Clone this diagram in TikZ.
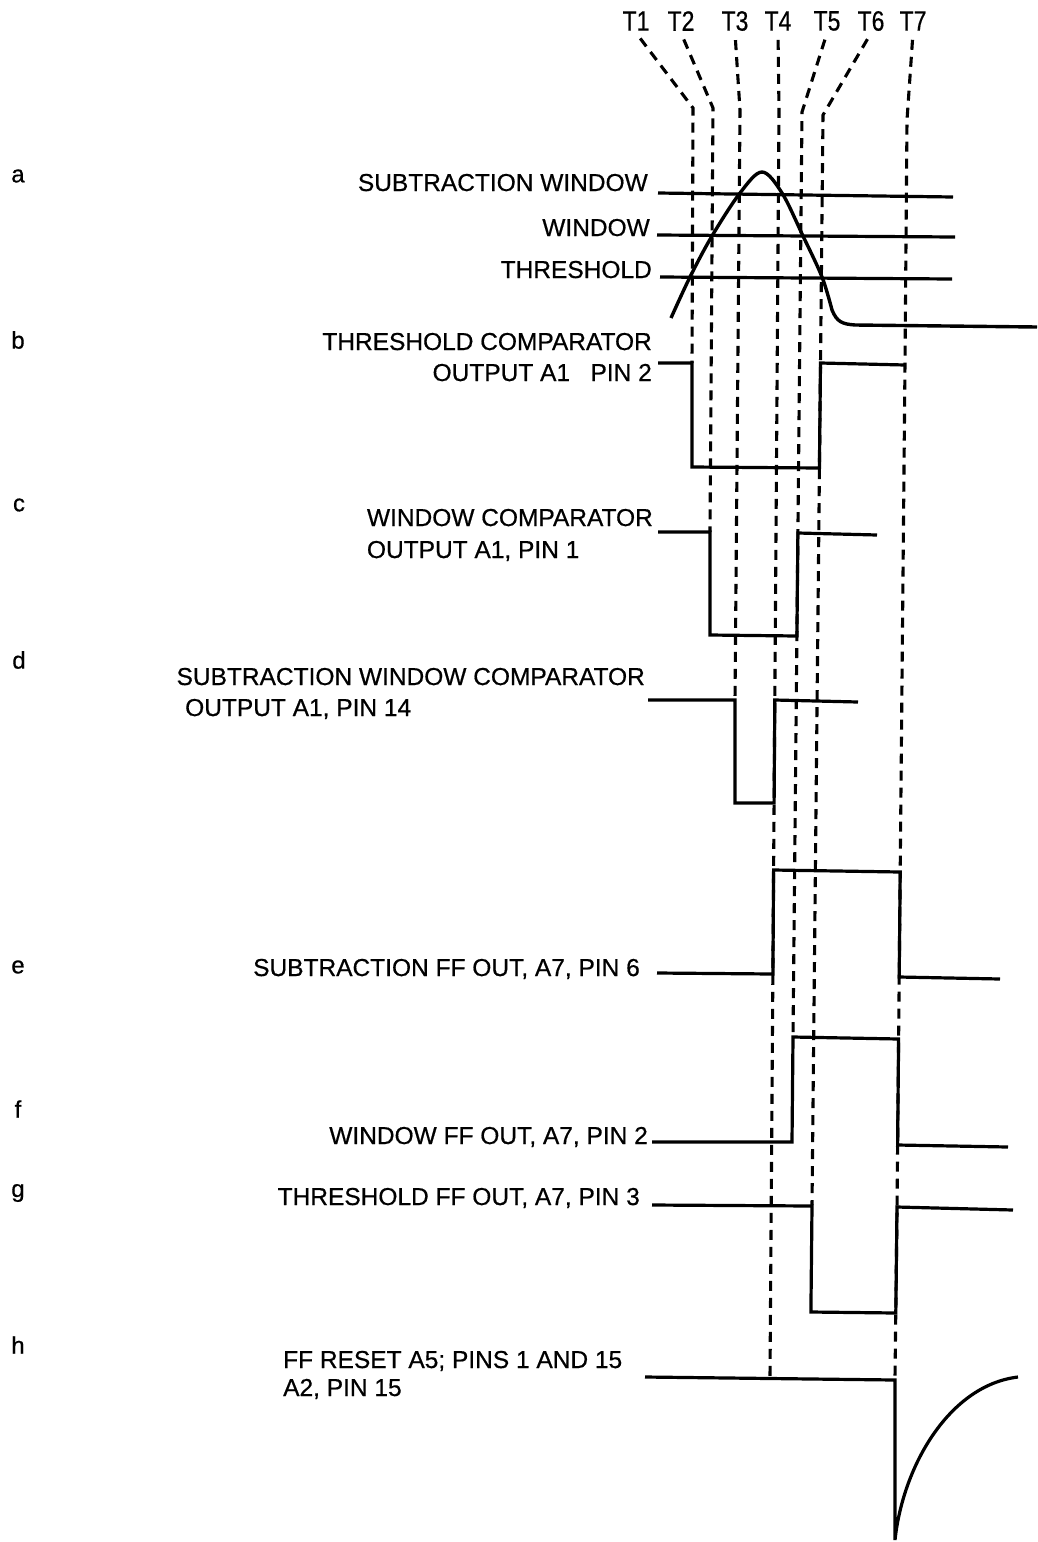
\documentclass[tikz,border=0pt]{standalone}
\usepackage{graphicx}
\usepackage{fontspec}
\setmainfont{Liberation Sans}[FakeBold=0.6]
\begin{document}
\begin{tikzpicture}[x=1pt,y=-1pt,
  lbl/.style={inner sep=0pt,font=\fontsize{24.5}{29}\selectfont},
  tlbl/.style={inner sep=2pt,font=\fontsize{28}{32}\selectfont},
  rowlbl/.style={inner sep=0pt,font=\fontsize{24}{29}\selectfont},
  wave/.style={line width=3.2pt,line join=miter},
  guide/.style={line width=3.1pt,dash pattern=on 10pt off 7pt,shorten <=7pt}]
\useasboundingbox (0,0) rectangle (1037,1542);

% row letters
\node[rowlbl] (ra) at (18,176) {a};
\node[rowlbl] (rb) at (18,340) {b};
\node[rowlbl] (rc) at (19,505) {c};
\node[rowlbl] (rd) at (19,660) {d};
\node[rowlbl] (re) at (18,967) {e};
\node[rowlbl] (rf) at (18,1109) {f};
\node[rowlbl] (rg) at (18,1193) {g};
\node[rowlbl] (rh) at (18,1345) {h};

% time labels
\node[tlbl] (T1) at (636,21) {\scalebox{0.82}[1]{T1}};
\node[tlbl] (T2) at (681,21) {\scalebox{0.82}[1]{T2}};
\node[tlbl] (T3) at (735,21) {\scalebox{0.82}[1]{T3}};
\node[tlbl] (T4) at (778,21) {\scalebox{0.82}[1]{T4}};
\node[tlbl] (T5) at (827,21) {\scalebox{0.82}[1]{T5}};
\node[tlbl] (T6) at (871,21) {\scalebox{0.82}[1]{T6}};
\node[tlbl] (T7) at (913,21) {\scalebox{0.82}[1]{T7}};

% signal labels
\node[lbl,anchor=base east] (lsw) at (648,191) {SUBTRACTION WINDOW};
\node[lbl,anchor=base east] (lw) at (650,236) {WINDOW};
\node[lbl,anchor=base east] (lt) at (652,278) {THRESHOLD};
\node[lbl,anchor=base east] (lb1) at (652,350) {THRESHOLD COMPARATOR};
\node[lbl,anchor=base east] (lb2) at (652,381) {OUTPUT A1\ \ \ PIN 2};
\node[lbl,anchor=base east] (lc1) at (653,526) {WINDOW COMPARATOR};
\node[lbl,anchor=base west] (lc2) at (lc1.base west |- 0,558) {OUTPUT A1, PIN 1};
\node[lbl,anchor=base east] (ld1) at (645,685) {SUBTRACTION WINDOW COMPARATOR};
\node[lbl,anchor=base west] (ld2) at (185,716) {OUTPUT A1, PIN 14};
\node[lbl,anchor=base east] (le) at (640,976) {SUBTRACTION FF OUT, A7, PIN 6};
\node[lbl,anchor=base east] (lf) at (648,1144) {WINDOW FF OUT, A7, PIN 2};
\node[lbl,anchor=base east] (lg) at (640,1205) {THRESHOLD FF OUT, A7, PIN 3};
\node[lbl,anchor=base west] (lh1) at (283,1368) {FF RESET A5; PINS 1 AND 15};
\node[lbl,anchor=base west] (lh2) at (283,1396) {A2, PIN 15};

% guide bend / end points
\coordinate (T1b) at (693,108);   \coordinate (T1e) at (692,363);
\coordinate (T2b) at (713,108);   \coordinate (T2e) at (710,532);
\coordinate (T3b) at (740,110);   \coordinate (T3e) at (735,700);
\coordinate (T4b) at (779,110);   \coordinate (T4e) at (770,1377);
\coordinate (T5b) at (802,112);   \coordinate (T5e) at (793,1037);
\coordinate (T6b) at (823,115);   \coordinate (T6e) at (812,1205);
\coordinate (T7b) at (907,120);   \coordinate (T7c) at (905,363);
\coordinate (T7d) at (897,1210);  \coordinate (T7e) at (895,1377);

\draw[guide] (T1.south) -- (T1b) -- (T1e);
\draw[guide] (T2.south) -- (T2b) -- (T2e);
\draw[guide] (T3.south) -- (T3b) -- (T3e);
\draw[guide] (T4.south) -- (T4b) -- (T4e);
\draw[guide] (T5.south) -- (T5b) -- (T5e);
\draw[guide] (T6.south) -- (T6b) -- (T6e);
\draw[guide] (T7.south) -- (T7b) -- (T7c) -- (T7d) -- (T7e);

% a: levels and pulse
\draw[wave] (658,193) -- (953,197);
\draw[wave] (657,235) -- (955,237);
\draw[wave] (660,277) -- (952,279);
\draw[wave,line width=3.4pt] plot[smooth,tension=0.55] coordinates
  {(671,318) (690,277) (712,236) (740,193) (762,172) (782,193) (803,236) (822,277) (832,310)}
  .. controls (837,322) and (842,324) .. (855,325) -- (1037,327);

% b
\draw[wave] (658,363) -- (692,363) -- (692,467) -- (819.4,468) -- (820.5,363) -- (905,365);
% c
\draw[wave] (658,532) -- (710,532) -- (710,635) -- (796.9,636) -- (797.9,533) -- (877,535);
% d
\draw[wave] (648,700) -- (735,700) -- (735,803) -- (774.1,803) -- (774.8,700) -- (858,702);
% e
\draw[wave] (657,973) -- (772.9,974) -- (773.6,870) -- (900.2,872) -- (899.2,977) -- (1000,979);
% f
\draw[wave] (652,1142) -- (792,1142) -- (793,1037) -- (898.6,1039) -- (897.6,1145) -- (1008,1147);
% g
\draw[wave] (652,1205) -- (812,1206) -- (810.9,1312) -- (895.8,1313) -- (897,1207) -- (1013,1210);
% h
\draw[wave] (645,1377) -- (895,1380) -- (895,1540)
  .. controls (903,1465) and (950,1385) .. (1018,1377);
\end{tikzpicture}
\end{document}
